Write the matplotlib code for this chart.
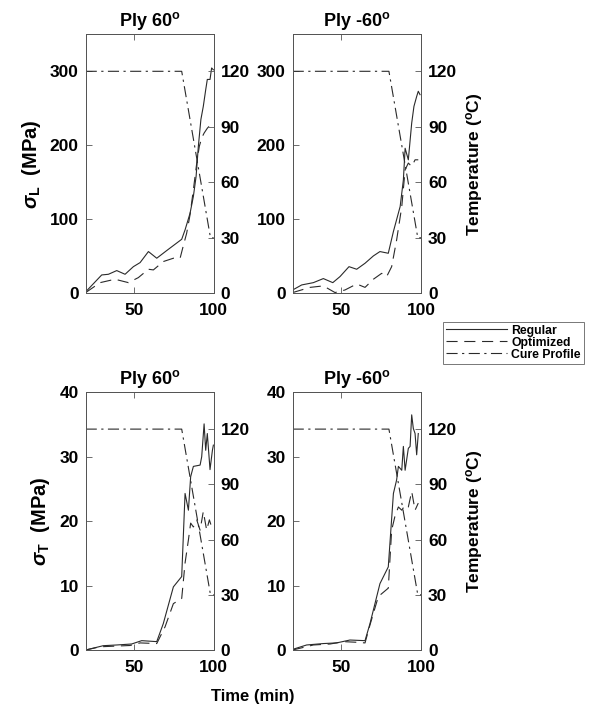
import matplotlib
matplotlib.use("Agg")
import matplotlib.pyplot as plt

plt.rcParams['font.family'] = ['Liberation Sans', 'DejaVu Sans']
plt.rcParams['font.weight'] = 'bold'
plt.rcParams['mathtext.fontset'] = 'custom'
plt.rcParams['mathtext.rm'] = 'Liberation Sans:bold'
plt.rcParams['mathtext.it'] = 'Liberation Sans:bold:italic'
plt.rcParams['mathtext.bf'] = 'Liberation Sans:bold'

# ---------------- data ----------------
cure_t = [20, 80, 98, 100]
cure_T = [120, 120, 30, 30]

# top-left: sigma_L, Ply 60
tl_reg_t = [20, 30, 34.2, 39.4, 44.6, 49.8, 54, 59.2, 64.4, 70.6, 80, 82.1, 85.2, 87.3, 89, 90.4, 92, 93.5, 95, 96, 97.7, 98.7, 99.8]
tl_reg_s = [2, 24.8, 25.7, 30.7, 25.7, 36, 41.5, 56.4, 47.4, 57.7, 73, 85.7, 108, 131, 158, 198.5, 235, 252.6, 275, 289, 289, 304.5, 302]
tl_opt_t = [20, 29, 38.3, 46.7, 52.9, 59.2, 62.3, 68.5, 74.8, 79, 80.6, 83.1, 85.2, 87.3, 89.4, 91, 92.5, 94, 96, 98.1, 99.8]
tl_opt_s = [1, 14.4, 19, 14.4, 21.2, 32.5, 31.6, 42.9, 47.4, 47.4, 60.9, 81.2, 106, 140, 176, 198.5, 210, 216.5, 223, 228, 225.6]

# top-right: sigma_L, Ply -60
tr_reg_t = [20, 25.6, 32.9, 39.1, 45, 49.5, 55.1, 59.9, 65.1, 70.3, 74.4, 79.6, 82.8, 87, 89, 90.1, 92.1, 94.2, 95.6, 97.3, 98.3, 99.4]
tr_reg_s = [4.5, 11.3, 14.4, 19.9, 14.4, 22.6, 36, 32.5, 40.6, 50.5, 56.4, 54.1, 83.5, 117.3, 153, 196, 180.4, 230, 252.6, 266, 273, 268.4]
tr_opt_t = [20, 30.8, 39.1, 46.4, 52.6, 59.9, 65.1, 70.3, 75.5, 78.6, 81.7, 84.8, 88, 90.1, 92.1, 94.2, 96.3, 98.3]
tr_opt_s = [1, 8, 10, 1, 4.5, 12.6, 8, 19, 27, 22.6, 36, 72, 117, 167, 176, 171.4, 180.4, 180.4]

# bottom-left: sigma_T, Ply 60
bl_reg_t = [20, 31, 39.4, 48.7, 55, 64.4, 68.5, 74.8, 80, 82.1, 84.2, 85.6, 87.3, 89.4, 91.5, 92.5, 94, 95, 96, 97.7, 99.2, 99.8]
bl_reg_s = [0, 0.67, 0.78, 0.93, 1.45, 1.3, 4.1, 9.8, 11.4, 24.3, 21.7, 26.9, 28.5, 28.6, 28.7, 30, 35.1, 31, 33.6, 28, 31, 31.8]
bl_opt_t = [20, 29, 38.3, 47.7, 54, 64.4, 69.6, 74.8, 80, 82.1, 84.2, 85.6, 87.3, 89.4, 91.5, 93.5, 95.6, 97.3, 98.7]
bl_opt_s = [0, 0.5, 0.6, 0.7, 1.1, 1.0, 3.6, 7.2, 8.0, 13.5, 17.1, 19.7, 19.1, 20.2, 18.6, 21.5, 18.6, 20.2, 19.1]

# bottom-right: sigma_T, Ply -60
br_reg_t = [20, 28.7, 39.1, 47.4, 55.7, 65.1, 68.2, 74.4, 79.6, 82.8, 84.8, 85.9, 88, 89, 90.1, 92.1, 93.2, 94.2, 95.2, 96.3, 97.3, 98.3]
br_reg_s = [0.1, 0.78, 1.0, 1.1, 1.55, 1.45, 4.1, 10.3, 12.9, 24.3, 26.4, 28.5, 27.9, 31.6, 27.9, 31.3, 31.6, 36.5, 34.4, 33.6, 30.3, 33.6]
br_opt_t = [20, 32.9, 43.3, 51.6, 59.9, 65.1, 68.2, 73.4, 79.6, 81.7, 83.7, 85.9, 88, 90.1, 92.1, 94.2, 96.3, 98.3]
br_opt_s = [0, 0.78, 0.93, 1.3, 1.2, 1.1, 3.9, 8.3, 9.6, 18.6, 20.7, 22.2, 21.7, 22.5, 22.2, 24.6, 21.7, 22.8]

titles = ['Ply 60$^{\\mathrm{o}}$', 'Ply -60$^{\\mathrm{o}}$']
x_ticks = [50, 100]
temp_ticks = [0, 30, 60, 90, 120]
sL_ticks = [0, 100, 200, 300]
sT_ticks = [0, 10, 20, 30, 40]
legend_labels = ['Regular', 'Optimized', 'Cure Profile']

# ---------------- figure ----------------
W, H = 595, 711
fig = plt.figure(figsize=(W / 100, H / 100), dpi=100)

LC = '#2a2a2a'
SC = '#555555'
LW = 0.8
DASH = (10, 6)
DASHDOT = (10, 4, 2, 4)

def px_axes(l, r, t, b):
    return [l / W, 1 - b / H, (r - l) / W, (b - t) / H]

panels = [
    (px_axes(85.7, 213.7, 34.3, 293.3), tl_reg_t, tl_reg_s, tl_opt_t, tl_opt_s, (0, 350), sL_ticks, 0, 'L'),
    (px_axes(292.7, 421.0, 34.3, 293.3), tr_reg_t, tr_reg_s, tr_opt_t, tr_opt_s, (0, 350), sL_ticks, 1, 'L'),
    (px_axes(85.7, 213.7, 392.3, 650.0), bl_reg_t, bl_reg_s, bl_opt_t, bl_opt_s, (0, 40), sT_ticks, 0, 'T'),
    (px_axes(292.7, 421.0, 392.3, 650.0), br_reg_t, br_reg_s, br_opt_t, br_opt_s, (0, 40), sT_ticks, 1, 'T'),
]

handles = None
for rect, rt, rs, ot, os_, ylim, yt, col, sub in panels:
    ax = fig.add_axes(rect)
    h1, = ax.plot(rt, rs, color=LC, lw=LW, ls='-')
    h2, = ax.plot(ot, os_, color=LC, lw=LW, ls=(0, DASH))
    ax.set_xlim(20, 100)
    ax.set_ylim(*ylim)
    ax.set_xticks(x_ticks)
    ax.set_yticks(yt)
    ax.tick_params(axis='both', direction='in', length=4, width=0.6, color=SC,
                   labelsize=12.5, pad=5, top=True, right=False)
    ax.tick_params(axis='x', pad=7)
    for lab in ax.get_xticklabels() + ax.get_yticklabels():
        lab.set_fontweight('bold')
    for sp in ax.spines.values():
        sp.set_color(SC)
        sp.set_linewidth(0.7)
    ax.set_title(titles[col], fontsize=13, fontweight='bold', pad=6)

    ax2 = ax.twinx()
    h3, = ax2.plot(cure_t, cure_T, color=LC, lw=LW, ls=(0, DASHDOT))
    ax2.set_ylim(0, 140)
    ax2.set_yticks(temp_ticks)
    ax2.tick_params(axis='y', direction='in', length=4, width=0.6, color=SC,
                    labelsize=12.5, pad=5)
    for lab in ax2.get_yticklabels():
        lab.set_fontweight('bold')
    for sp in ax2.spines.values():
        sp.set_color(SC)
        sp.set_linewidth(0.7)

    if col == 0:
        ax.set_ylabel('$\\sigma_{\\mathrm{' + sub + '}}$  (MPa)', fontsize=14.5,
                      fontweight='bold', labelpad=5)
    else:
        ax2.set_ylabel('Temperature ($^{\\mathrm{o}}$C)', fontsize=12.5,
                       fontweight='bold', labelpad=5)
    if handles is None:
        handles = [h1, h2, h3]

fig.text(253 / W, 1 - 697 / H, 'Time (min)', ha='center', va='center',
         fontsize=12, fontweight='bold')

leg = fig.legend(handles, legend_labels, loc='upper left',
                 bbox_to_anchor=(442.7 / W, 1 - 321.7 / H),
                 prop={'size': 8.8, 'weight': 'bold'},
                 handlelength=5.0, handletextpad=0.35, labelspacing=0.0,
                 borderpad=0.25, borderaxespad=0, fancybox=False, framealpha=1)
leg.get_frame().set_edgecolor('#777777')
leg.get_frame().set_linewidth(0.7)

fig.savefig('out.png', dpi=100)
